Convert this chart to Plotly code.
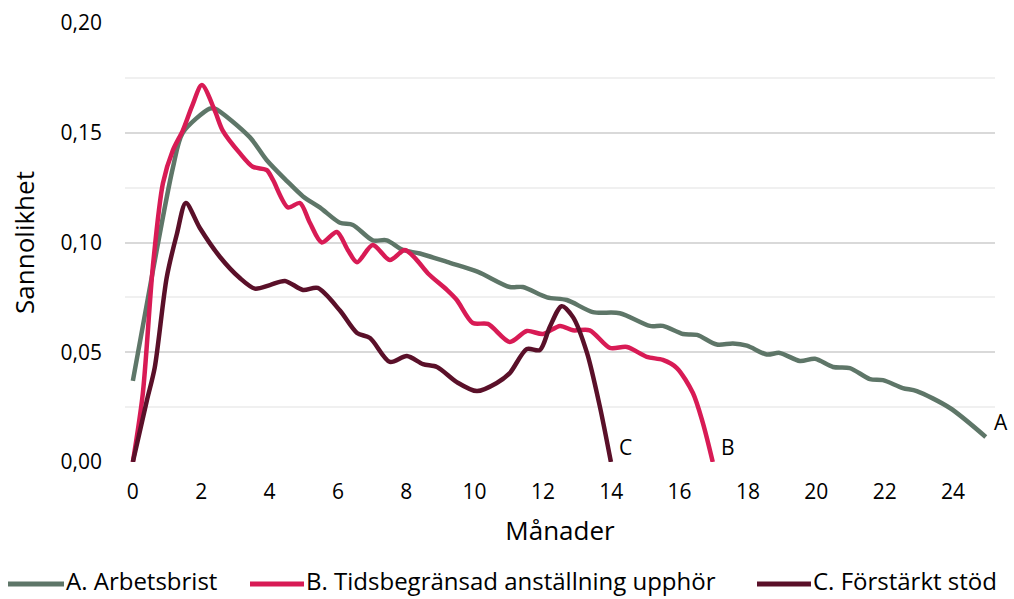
import plotly.graph_objects as go

# Series A: Arbetsbrist
a_x = [0, 0.585, 1.17, 1.46, 2.25, 2.40, 3.42, 3.92, 4.51, 4.98, 5.47, 6.06, 6.44, 7.02, 7.43, 7.90,
       8.40, 9.28, 10.1, 11.03, 11.41, 12.12, 12.70, 13.46, 14.25, 15.13, 15.51, 16.10, 16.51, 17.09,
       17.56, 17.97, 18.55, 18.93, 19.52, 19.96, 20.49, 20.98, 21.57, 21.95, 22.53, 22.94, 23.91, 24.96]
a_y = [0.037, 0.087, 0.134, 0.150, 0.161, 0.161, 0.148, 0.1375, 0.128, 0.121, 0.116, 0.109, 0.108, 0.101,
       0.101, 0.0966, 0.095, 0.0907, 0.0866, 0.0797, 0.0797, 0.075, 0.0738, 0.0683, 0.0678, 0.062, 0.062,
       0.0583, 0.0579, 0.0535, 0.054, 0.053, 0.049, 0.0497, 0.046, 0.047, 0.0433, 0.0428, 0.0378, 0.0373,
       0.0337, 0.0323, 0.0246, 0.0114]

# Series B: Tidsbegränsad anställning upphör
b_x = [0, 0.29, 0.585, 0.88, 1.17, 1.46, 1.73, 2.02, 2.40, 2.63, 3.13, 3.51, 3.92, 4.10, 4.54, 4.89, 5.18,
       5.53, 5.97, 6.29, 6.56, 7.02, 7.52, 7.96, 8.31, 8.63, 9.19, 9.48, 9.95, 10.39, 11.03, 11.53, 12.0,
       12.50, 12.88, 13.37, 13.96, 14.46, 15.04, 15.51, 15.92, 16.39, 16.68, 16.97]
b_y = [0, 0.031, 0.089, 0.127, 0.142, 0.151, 0.162, 0.1717, 0.160, 0.151, 0.1407, 0.1345, 0.133, 0.1285,
       0.116, 0.118, 0.109, 0.100, 0.1048, 0.0966, 0.091, 0.0989, 0.092, 0.0966, 0.092, 0.086, 0.0784,
       0.0738, 0.0633, 0.0629, 0.0547, 0.0597, 0.0583, 0.062, 0.060, 0.060, 0.052, 0.0524, 0.0479, 0.0465,
       0.0428, 0.0314, 0.0178, 0]

# Series C: Förstärkt stöd
c_x = [0, 0.41, 0.64, 0.99, 1.29, 1.55, 1.96, 2.55, 3.13, 3.57, 4.01, 4.45, 4.98, 5.41, 6.06, 6.56, 6.94,
       7.52, 8.02, 8.49, 8.90, 9.48, 10.07, 10.65, 11.03, 11.53, 11.91, 12.20, 12.55, 12.88, 13.29, 13.67, 13.99]
c_y = [0, 0.028, 0.043, 0.084, 0.104, 0.118, 0.1066, 0.0934, 0.0838, 0.079, 0.0806, 0.0825, 0.0784, 0.0793,
       0.069, 0.0588, 0.0565, 0.0456, 0.0483, 0.0446, 0.0433, 0.0364, 0.0323, 0.036, 0.0405, 0.0515, 0.051,
       0.0615, 0.071, 0.066, 0.0497, 0.025, 0]

names = ["A. Arbetsbrist", "B. Tidsbegränsad anställning upphör", "C. Förstärkt stöd"]
end_labels = ["A", "B", "C"]
colors = ["#5e7668", "#d81b55", "#5a1029"]
x_ticks = list(range(0, 25, 2))
y_ticks = [0, 0.05, 0.10, 0.15, 0.20]

FONT = "Open Sans"
ML, MR, MT, MB = 125, 19, 23, 137
W, H = 1014, 599
PW, PH = W - ML - MR, H - MT - MB


def px_to_paper_x(px):
    return (px - ML) / PW


def px_to_paper_y(py):
    return (H - MB - py) / PH


fig = go.Figure()
series = [(a_x, a_y), (b_x, b_y), (c_x, c_y)]
for (xs, ys), name, col in zip(series, names, colors):
    fig.add_trace(go.Scatter(x=xs, y=ys, mode="lines", name=name, showlegend=False,
                             line=dict(color=col, width=4.5, shape="spline", smoothing=0.8)))

for (xs, ys), lab in zip(series, end_labels):
    fig.add_annotation(x=xs[-1], y=ys[-1], text=lab, showarrow=False,
                       xanchor="left", yanchor="bottom", xshift=6, yshift=-1,
                       font=dict(family=FONT, size=21, color="#000000"))

# legend drawn in the bottom margin (line swatch + label)
legend_line_px = [(8, 64), (250, 304), (757, 811)]
legend_line_y = 584
legend_text_y = 580
for (x0, x1), name, col in zip(legend_line_px, names, colors):
    fig.add_shape(type="line", xref="paper", yref="paper",
                  x0=px_to_paper_x(x0), x1=px_to_paper_x(x1),
                  y0=px_to_paper_y(legend_line_y), y1=px_to_paper_y(legend_line_y),
                  line=dict(color=col, width=5))
    fig.add_annotation(xref="paper", yref="paper", x=px_to_paper_x(x1 + 1), y=px_to_paper_y(legend_text_y),
                       text=name, showarrow=False, xanchor="left", yanchor="middle", borderpad=0,
                       font=dict(family=FONT, size=24, color="#000000"))

fig.update_layout(
    width=W, height=H,
    margin=dict(l=ML, r=MR, t=MT, b=MB),
    paper_bgcolor="white", plot_bgcolor="white",
    separators=", ",
    font=dict(family=FONT, size=21, color="#000000"),
    showlegend=False,
    xaxis=dict(range=[-0.23, 25.23], tickvals=x_ticks, showgrid=False, zeroline=False,
               showline=False, ticks="", ticklabelstandoff=15, automargin=False,
               title=dict(text="Månader", font=dict(family=FONT, size=26), standoff=17),
               tickfont=dict(family=FONT, size=21)),
    yaxis=dict(range=[0, 0.2], tickvals=y_ticks, tickformat=".2f", showgrid=True,
               gridcolor="#d9d9d9", gridwidth=1.5, zeroline=False, showline=False, ticks="",
               ticklabelstandoff=22, automargin=False,
               minor=dict(dtick=0.025, showgrid=True, gridcolor="#f0f0f0", gridwidth=1.5),
               title=dict(text="Sannolikhet", font=dict(family=FONT, size=26), standoff=18),
               tickfont=dict(family=FONT, size=21)),
)

fig.write_html("out.html", config={"displayModeBar": False},
               post_script="document.body.style.margin='0px';")
